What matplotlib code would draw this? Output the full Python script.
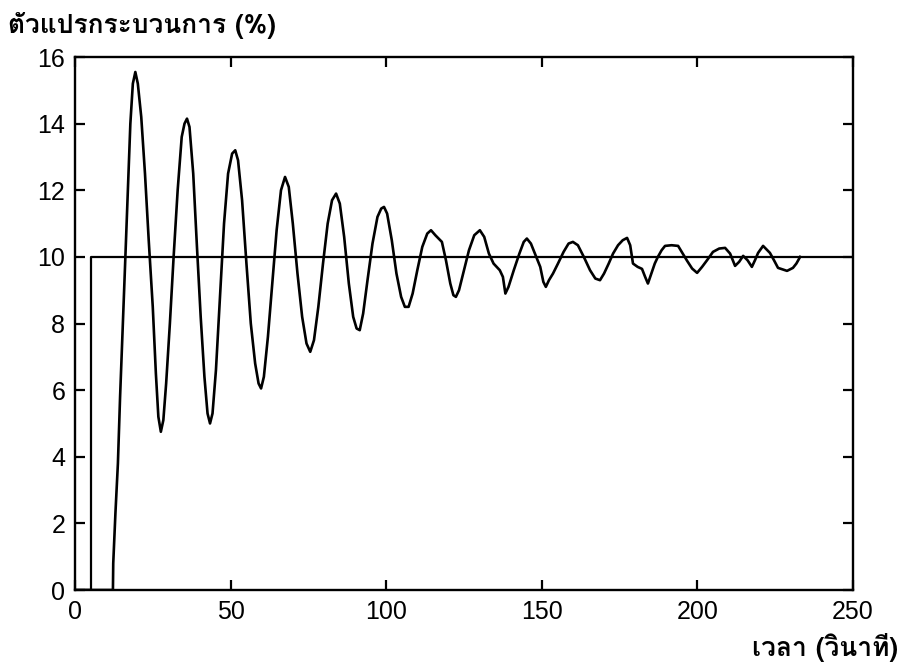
import numpy as np
import matplotlib
matplotlib.use("Agg")
import matplotlib.pyplot as plt
from matplotlib import font_manager
from matplotlib.ft2font import FT2Font

# setpoint step (time s, %)
sp_t = [0, 5, 5, 250]
sp_v = [0, 0, 10, 10]

# process variable (time s, %)
pv_t = [0, 12.2, 12.3, 13.0, 13.8, 14.5, 15.2, 16.0, 17.0, 17.8, 18.6, 19.4, 20.2, 21.3,
        22.5, 23.7, 25.0, 26.0, 26.8, 27.6, 28.4, 29.3, 30.5, 31.7, 33.0, 34.3, 35.2,
        36.0, 36.8, 38.0, 39.2, 40.4, 41.6, 42.6, 43.4, 44.2, 45.3, 46.6, 47.9, 49.2,
        50.5, 51.5, 52.4, 53.7, 55.1, 56.5, 57.9, 59.0, 59.8, 60.7, 62.0, 63.4, 64.8,
        66.2, 67.5, 68.7, 70.0, 71.5, 73.0, 74.4, 75.6, 76.8, 78.2, 79.7, 81.2, 82.6,
        83.9, 85.1, 86.5, 88.0, 89.4, 90.5, 91.5, 92.6, 94.0, 95.6, 97.2, 98.4, 99.3,
        100.3, 101.8, 103.3, 104.8, 106.0, 107.2, 108.5, 110.0, 111.6, 113.2, 114.4,
        115.8, 117.9, 119.2, 120.6, 121.6, 122.4, 123.4, 125.0, 126.6, 128.3, 130.1,
        131.5, 133.0, 134.5, 136.5, 137.5, 138.3, 139.3, 141.0, 142.8, 144.2, 145.2,
        146.5, 148.0, 149.5, 150.5, 151.3, 152.3, 153.6, 155.2, 157.0, 158.6, 160.0,
        161.6, 163.5, 165.5, 167.2, 168.7, 170.0, 171.5, 172.9, 174.5, 176.0, 177.4,
        178.4, 179.3, 180.8, 182.2, 183.2, 184.1, 185.2, 186.3, 187.3, 188.5, 189.6,
        191.7, 193.8, 195.3, 196.7, 198.3, 199.9, 201.5, 203.1, 205.0, 207.0, 208.9,
        210.5, 212.1, 213.4, 214.7, 216.1, 217.5, 218.5, 219.5, 221.1, 223.3, 224.6,
        225.9, 228.8, 230.7, 231.8, 233.0]
pv_v = [0, 0, 0.8, 2.3, 3.8, 5.8, 7.5, 9.5, 12.0, 14.0, 15.2, 15.55, 15.2, 14.2,
        12.5, 10.5, 8.5, 6.5, 5.2, 4.75, 5.1, 6.2, 8.0, 10.0, 12.0, 13.6, 14.0,
        14.15, 13.9, 12.5, 10.3, 8.2, 6.4, 5.3, 5.0, 5.3, 6.6, 8.8, 11.0, 12.5,
        13.1, 13.2, 12.9, 11.7, 9.8, 8.0, 6.8, 6.2, 6.05, 6.4, 7.6, 9.2, 10.8,
        12.0, 12.4, 12.1, 11.0, 9.5, 8.2, 7.4, 7.15, 7.5, 8.5, 9.8, 11.0, 11.7,
        11.9, 11.6, 10.6, 9.2, 8.2, 7.85, 7.8, 8.3, 9.3, 10.4, 11.2, 11.45, 11.5,
        11.3, 10.5, 9.5, 8.8, 8.5, 8.5, 8.9, 9.6, 10.3, 10.7, 10.8,
        10.65, 10.45, 9.9, 9.2, 8.85, 8.8, 9.0, 9.6, 10.2, 10.65, 10.8,
        10.6, 10.1, 9.8, 9.6, 9.4, 8.9, 9.1, 9.6, 10.1, 10.45, 10.55,
        10.4, 10.05, 9.7, 9.25, 9.1, 9.3, 9.5, 9.8, 10.15, 10.4, 10.45,
        10.35, 10.0, 9.6, 9.35, 9.3, 9.5, 9.8, 10.1, 10.35, 10.5, 10.57,
        10.35, 9.8, 9.7, 9.64, 9.4, 9.2, 9.5, 9.8, 10.0, 10.2, 10.33,
        10.35, 10.33, 10.1, 9.88, 9.65, 9.52, 9.7, 9.9, 10.15, 10.25, 10.27,
        10.1, 9.73, 9.85, 10.03, 9.9, 9.7, 9.9, 10.12, 10.33, 10.12, 9.9,
        9.67, 9.58, 9.67, 9.8, 10.0]

x_ticks = [0, 50, 100, 150, 200, 250]
y_ticks = [0, 2, 4, 6, 8, 10, 12, 14, 16]
y_label = "ตัวแปรกระบวนการ (%)"
x_label = "เวลา (วินาที)"


def thai_font():
    # pick any installed font that actually has Thai glyphs
    for f in font_manager.fontManager.ttflist:
        try:
            cmap = FT2Font(f.fname).get_charmap()
        except Exception:
            continue
        if 0x0E01 in cmap and 0x0E27 in cmap and 0x0E35 in cmap:
            return f.name
    return None


th = thai_font()
fams = [th, "DejaVu Sans"] if th else ["DejaVu Sans"]

plt.rcParams["font.family"] = ["Liberation Sans", "DejaVu Sans"]

fig = plt.figure(figsize=(9.02, 6.66), dpi=100)
ax = fig.add_axes([0.0831, 0.1141, 0.8626, 0.8003])

ax.plot(sp_t, sp_v, color="black", lw=1.6)
ax.plot(pv_t, pv_v, color="black", lw=1.9)

ax.set_xlim(0, 250)
ax.set_ylim(0, 16)
ax.set_xticks(x_ticks)
ax.set_yticks(y_ticks)
ax.tick_params(direction="in", top=True, right=True, length=7, width=1.6,
               labelsize=18, pad=7)
for s in ax.spines.values():
    s.set_linewidth(1.7)

fig.text(0.009, 0.962, y_label, family=fams, fontsize=19, fontweight="bold",
         ha="left", va="center")
fig.text(0.996, 0.028, x_label, family=fams, fontsize=19, fontweight="bold",
         ha="right", va="center")

fig.savefig("out.png", dpi=100)
